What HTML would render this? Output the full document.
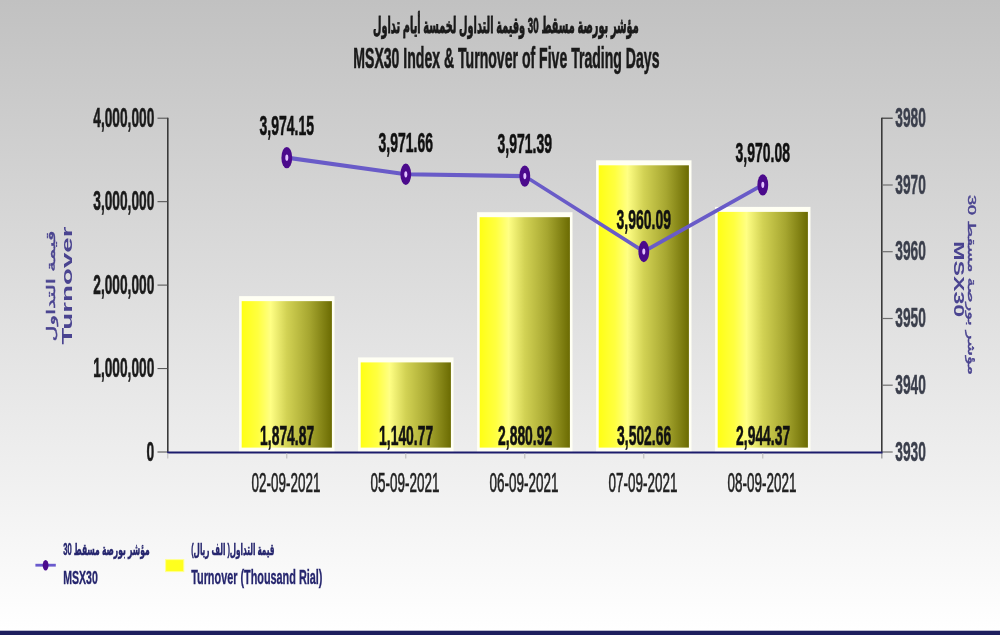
<!DOCTYPE html>
<html lang="ar"><head><meta charset="utf-8"><title>MSX30 Index &amp; Turnover of Five Trading Days</title>
<style>html,body{margin:0;padding:0;background:#fff;overflow:hidden}svg{display:block}</style></head><body>
<svg width="1000" height="635" viewBox="0 0 1000 635">
<defs>
<linearGradient id="bg" gradientUnits="userSpaceOnUse" x1="0" y1="0" x2="0" y2="631">
<stop offset="0" stop-color="#c1c1c1"/>
<stop offset="1" stop-color="#ffffff"/>
</linearGradient>
<linearGradient id="bar" x1="0" y1="0" x2="1" y2="0">
<stop offset="0" stop-color="#ffff14"/>
<stop offset="0.18" stop-color="#ffff40"/>
<stop offset="0.32" stop-color="#ffff84"/>
<stop offset="0.5" stop-color="#d2d254"/>
<stop offset="0.75" stop-color="#a6a630"/>
<stop offset="1" stop-color="#6b6b02"/>
</linearGradient>
</defs>
<rect x="0" y="0" width="1000" height="635" fill="url(#bg)"/>
<rect x="0" y="630.7" width="1000" height="4.3" fill="#1e1f5e"/>
<g transform="translate(373.00,33.30) scale(0.4606,1)"><text x="576.81" y="0" font-family='"Liberation Sans", "DejaVu Sans", sans-serif' font-size="22.07" font-weight="bold" fill="#1a1a1a" textLength="576.81" lengthAdjust="spacingAndGlyphs" stroke="#1a1a1a" stroke-width="0.70" vector-effect="non-scaling-stroke" direction="rtl" unicode-bidi="plaintext">مؤشر بورصة مسقط 30 وقيمة التداول لخمسة أيام تداول</text></g>
<g transform="translate(353.30,67.70) scale(0.4888,1)"><text x="0.00" y="0" font-family='"Liberation Sans", Arial, Helvetica, sans-serif' font-size="28.78" font-weight="bold" fill="#1a1a1a" textLength="626.37" lengthAdjust="spacingAndGlyphs" stroke="#1a1a1a" stroke-width="0.50" vector-effect="non-scaling-stroke">MSX30 Index &amp; Turnover of Five Trading Days</text></g>
<line x1="167.8" y1="117.7" x2="167.8" y2="452.0" stroke="#3a3a3a" stroke-width="1.6"/>
<line x1="881.8" y1="117.7" x2="881.8" y2="452.0" stroke="#3a3a3a" stroke-width="1.6"/>
<line x1="881.8" y1="452.0" x2="881.8" y2="458.5" stroke="#9c9c9c" stroke-width="1.4"/>
<line x1="157.5" y1="118.2" x2="167.8" y2="118.2" stroke="#4a4a4a" stroke-width="1"/>
<g transform="translate(93.30,126.80) scale(0.4909,1)"><text x="0.00" y="0" font-family='"Liberation Sans", Arial, Helvetica, sans-serif' font-size="27.93" font-weight="bold" fill="#1a1a1a" textLength="124.27" lengthAdjust="spacingAndGlyphs" stroke="#1a1a1a" stroke-width="0.50" vector-effect="non-scaling-stroke">4,000,000</text></g>
<line x1="157.5" y1="201.7" x2="167.8" y2="201.7" stroke="#4a4a4a" stroke-width="1"/>
<g transform="translate(93.30,210.25) scale(0.4909,1)"><text x="0.00" y="0" font-family='"Liberation Sans", Arial, Helvetica, sans-serif' font-size="27.93" font-weight="bold" fill="#1a1a1a" textLength="124.27" lengthAdjust="spacingAndGlyphs" stroke="#1a1a1a" stroke-width="0.50" vector-effect="non-scaling-stroke">3,000,000</text></g>
<line x1="157.5" y1="285.1" x2="167.8" y2="285.1" stroke="#4a4a4a" stroke-width="1"/>
<g transform="translate(93.30,293.70) scale(0.4909,1)"><text x="0.00" y="0" font-family='"Liberation Sans", Arial, Helvetica, sans-serif' font-size="27.93" font-weight="bold" fill="#1a1a1a" textLength="124.27" lengthAdjust="spacingAndGlyphs" stroke="#1a1a1a" stroke-width="0.50" vector-effect="non-scaling-stroke">2,000,000</text></g>
<line x1="157.5" y1="368.6" x2="167.8" y2="368.6" stroke="#4a4a4a" stroke-width="1"/>
<g transform="translate(93.30,377.15) scale(0.4909,1)"><text x="0.00" y="0" font-family='"Liberation Sans", Arial, Helvetica, sans-serif' font-size="27.93" font-weight="bold" fill="#1a1a1a" textLength="124.27" lengthAdjust="spacingAndGlyphs" stroke="#1a1a1a" stroke-width="0.50" vector-effect="non-scaling-stroke">1,000,000</text></g>
<line x1="157.5" y1="452.0" x2="167.8" y2="452.0" stroke="#4a4a4a" stroke-width="1"/>
<g transform="translate(146.60,460.60) scale(0.4957,1)"><text x="0.00" y="0" font-family='"Liberation Sans", Arial, Helvetica, sans-serif' font-size="27.93" font-weight="bold" fill="#1a1a1a" textLength="15.54" lengthAdjust="spacingAndGlyphs" stroke="#1a1a1a" stroke-width="0.50" vector-effect="non-scaling-stroke">0</text></g>
<line x1="881.8" y1="118.2" x2="892.7" y2="118.2" stroke="#3c3c3c" stroke-width="1.2"/>
<g transform="translate(895.30,126.80) scale(0.4924,1)"><text x="0.00" y="0" font-family='"Liberation Sans", Arial, Helvetica, sans-serif' font-size="27.93" font-weight="bold" fill="#3b3f4c" textLength="62.14" lengthAdjust="spacingAndGlyphs" stroke="#3b3f4c" stroke-width="0.40" vector-effect="non-scaling-stroke">3980</text></g>
<line x1="881.8" y1="185.0" x2="892.7" y2="185.0" stroke="#6e6e6e" stroke-width="1.2"/>
<g transform="translate(895.30,193.56) scale(0.4924,1)"><text x="0.00" y="0" font-family='"Liberation Sans", Arial, Helvetica, sans-serif' font-size="27.93" font-weight="bold" fill="#3b3f4c" textLength="62.14" lengthAdjust="spacingAndGlyphs" stroke="#3b3f4c" stroke-width="0.40" vector-effect="non-scaling-stroke">3970</text></g>
<line x1="881.8" y1="251.7" x2="892.7" y2="251.7" stroke="#6e6e6e" stroke-width="1.2"/>
<g transform="translate(895.30,260.32) scale(0.4924,1)"><text x="0.00" y="0" font-family='"Liberation Sans", Arial, Helvetica, sans-serif' font-size="27.93" font-weight="bold" fill="#3b3f4c" textLength="62.14" lengthAdjust="spacingAndGlyphs" stroke="#3b3f4c" stroke-width="0.40" vector-effect="non-scaling-stroke">3960</text></g>
<line x1="881.8" y1="318.5" x2="892.7" y2="318.5" stroke="#6e6e6e" stroke-width="1.2"/>
<g transform="translate(895.30,327.08) scale(0.4924,1)"><text x="0.00" y="0" font-family='"Liberation Sans", Arial, Helvetica, sans-serif' font-size="27.93" font-weight="bold" fill="#3b3f4c" textLength="62.14" lengthAdjust="spacingAndGlyphs" stroke="#3b3f4c" stroke-width="0.40" vector-effect="non-scaling-stroke">3950</text></g>
<line x1="881.8" y1="385.2" x2="892.7" y2="385.2" stroke="#6e6e6e" stroke-width="1.2"/>
<g transform="translate(895.30,393.84) scale(0.4924,1)"><text x="0.00" y="0" font-family='"Liberation Sans", Arial, Helvetica, sans-serif' font-size="27.93" font-weight="bold" fill="#3b3f4c" textLength="62.14" lengthAdjust="spacingAndGlyphs" stroke="#3b3f4c" stroke-width="0.40" vector-effect="non-scaling-stroke">3940</text></g>
<line x1="881.8" y1="452.0" x2="892.7" y2="452.0" stroke="#6e6e6e" stroke-width="1.2"/>
<g transform="translate(895.30,460.60) scale(0.4924,1)"><text x="0.00" y="0" font-family='"Liberation Sans", Arial, Helvetica, sans-serif' font-size="27.93" font-weight="bold" fill="#3b3f4c" textLength="62.14" lengthAdjust="spacingAndGlyphs" stroke="#3b3f4c" stroke-width="0.40" vector-effect="non-scaling-stroke">3930</text></g>
<rect x="239.10" y="296.14" width="95.40" height="155.86" fill="#fffff4"/>
<rect x="241.70" y="301.14" width="90.20" height="146.46" fill="url(#bar)"/>
<rect x="358.10" y="357.40" width="95.40" height="94.60" fill="#fffff4"/>
<rect x="360.70" y="362.40" width="90.20" height="85.20" fill="url(#bar)"/>
<rect x="477.10" y="212.19" width="95.40" height="239.81" fill="#fffff4"/>
<rect x="479.70" y="217.19" width="90.20" height="230.41" fill="url(#bar)"/>
<rect x="596.10" y="160.30" width="95.40" height="291.70" fill="#fffff4"/>
<rect x="598.70" y="165.30" width="90.20" height="282.30" fill="url(#bar)"/>
<rect x="715.10" y="206.89" width="95.40" height="245.11" fill="#fffff4"/>
<rect x="717.70" y="211.89" width="90.20" height="235.71" fill="url(#bar)"/>
<line x1="167.1" y1="452.5" x2="882.5" y2="452.5" stroke="#1c1c6c" stroke-width="2"/>
<line x1="167.8" y1="453" x2="167.8" y2="458.5" stroke="#b8b8b8" stroke-width="1"/>
<line x1="286.8" y1="453" x2="286.8" y2="458.5" stroke="#b8b8b8" stroke-width="1"/>
<line x1="405.8" y1="453" x2="405.8" y2="458.5" stroke="#b8b8b8" stroke-width="1"/>
<line x1="524.8" y1="453" x2="524.8" y2="458.5" stroke="#b8b8b8" stroke-width="1"/>
<line x1="643.8" y1="453" x2="643.8" y2="458.5" stroke="#b8b8b8" stroke-width="1"/>
<line x1="762.8" y1="453" x2="762.8" y2="458.5" stroke="#b8b8b8" stroke-width="1"/>
<g transform="translate(260.10,445.20) scale(0.5068,1)"><text x="0.00" y="0" font-family='"Liberation Sans", Arial, Helvetica, sans-serif' font-size="27.37" font-weight="bold" fill="#111" textLength="106.56" lengthAdjust="spacingAndGlyphs" stroke="#111" stroke-width="0.50" vector-effect="non-scaling-stroke">1,874.87</text></g>
<g transform="translate(251.60,491.50) scale(0.4913,1)"><text x="0.00" y="0" font-family='"Liberation Sans", Arial, Helvetica, sans-serif' font-size="27.37" font-weight="normal" fill="#222" textLength="140.03" lengthAdjust="spacingAndGlyphs" stroke="#222" stroke-width="0.50" vector-effect="non-scaling-stroke">02-09-2021</text></g>
<g transform="translate(379.10,445.20) scale(0.5068,1)"><text x="0.00" y="0" font-family='"Liberation Sans", Arial, Helvetica, sans-serif' font-size="27.37" font-weight="bold" fill="#111" textLength="106.56" lengthAdjust="spacingAndGlyphs" stroke="#111" stroke-width="0.50" vector-effect="non-scaling-stroke">1,140.77</text></g>
<g transform="translate(370.60,491.50) scale(0.4913,1)"><text x="0.00" y="0" font-family='"Liberation Sans", Arial, Helvetica, sans-serif' font-size="27.37" font-weight="normal" fill="#222" textLength="140.03" lengthAdjust="spacingAndGlyphs" stroke="#222" stroke-width="0.50" vector-effect="non-scaling-stroke">05-09-2021</text></g>
<g transform="translate(498.10,445.20) scale(0.5068,1)"><text x="0.00" y="0" font-family='"Liberation Sans", Arial, Helvetica, sans-serif' font-size="27.37" font-weight="bold" fill="#111" textLength="106.56" lengthAdjust="spacingAndGlyphs" stroke="#111" stroke-width="0.50" vector-effect="non-scaling-stroke">2,880.92</text></g>
<g transform="translate(489.60,491.50) scale(0.4913,1)"><text x="0.00" y="0" font-family='"Liberation Sans", Arial, Helvetica, sans-serif' font-size="27.37" font-weight="normal" fill="#222" textLength="140.03" lengthAdjust="spacingAndGlyphs" stroke="#222" stroke-width="0.50" vector-effect="non-scaling-stroke">06-09-2021</text></g>
<g transform="translate(617.10,445.20) scale(0.5068,1)"><text x="0.00" y="0" font-family='"Liberation Sans", Arial, Helvetica, sans-serif' font-size="27.37" font-weight="bold" fill="#111" textLength="106.56" lengthAdjust="spacingAndGlyphs" stroke="#111" stroke-width="0.50" vector-effect="non-scaling-stroke">3,502.66</text></g>
<g transform="translate(608.60,491.50) scale(0.4913,1)"><text x="0.00" y="0" font-family='"Liberation Sans", Arial, Helvetica, sans-serif' font-size="27.37" font-weight="normal" fill="#222" textLength="140.03" lengthAdjust="spacingAndGlyphs" stroke="#222" stroke-width="0.50" vector-effect="non-scaling-stroke">07-09-2021</text></g>
<g transform="translate(736.10,445.20) scale(0.5068,1)"><text x="0.00" y="0" font-family='"Liberation Sans", Arial, Helvetica, sans-serif' font-size="27.37" font-weight="bold" fill="#111" textLength="106.56" lengthAdjust="spacingAndGlyphs" stroke="#111" stroke-width="0.50" vector-effect="non-scaling-stroke">2,944.37</text></g>
<g transform="translate(727.60,491.50) scale(0.4913,1)"><text x="0.00" y="0" font-family='"Liberation Sans", Arial, Helvetica, sans-serif' font-size="27.37" font-weight="normal" fill="#222" textLength="140.03" lengthAdjust="spacingAndGlyphs" stroke="#222" stroke-width="0.50" vector-effect="non-scaling-stroke">08-09-2021</text></g>
<g transform="scale(1,2)"><polyline points="286.80,78.83 405.80,87.14 524.80,88.04 643.80,125.76 762.80,92.41" fill="none" stroke="#695bc8" stroke-width="2.05" stroke-linejoin="round"/></g>
<ellipse cx="286.80" cy="157.65" rx="5.4" ry="10.7" fill="#4b0a8c"/>
<ellipse cx="286.80" cy="157.65" rx="1.5" ry="3.1" fill="#e2c2ff"/>
<g transform="translate(259.60,135.05) scale(0.5003,1)"><text x="0.00" y="0" font-family='"Liberation Sans", Arial, Helvetica, sans-serif' font-size="27.93" font-weight="bold" fill="#111" textLength="108.73" lengthAdjust="spacingAndGlyphs" stroke="#111" stroke-width="0.50" vector-effect="non-scaling-stroke">3,974.15</text></g>
<ellipse cx="405.80" cy="174.28" rx="5.4" ry="10.7" fill="#4b0a8c"/>
<ellipse cx="405.80" cy="174.28" rx="1.5" ry="3.1" fill="#e2c2ff"/>
<g transform="translate(378.60,151.68) scale(0.5003,1)"><text x="0.00" y="0" font-family='"Liberation Sans", Arial, Helvetica, sans-serif' font-size="27.93" font-weight="bold" fill="#111" textLength="108.73" lengthAdjust="spacingAndGlyphs" stroke="#111" stroke-width="0.50" vector-effect="non-scaling-stroke">3,971.66</text></g>
<ellipse cx="524.80" cy="176.08" rx="5.4" ry="10.7" fill="#4b0a8c"/>
<ellipse cx="524.80" cy="176.08" rx="1.5" ry="3.1" fill="#e2c2ff"/>
<g transform="translate(497.60,153.48) scale(0.5003,1)"><text x="0.00" y="0" font-family='"Liberation Sans", Arial, Helvetica, sans-serif' font-size="27.93" font-weight="bold" fill="#111" textLength="108.73" lengthAdjust="spacingAndGlyphs" stroke="#111" stroke-width="0.50" vector-effect="non-scaling-stroke">3,971.39</text></g>
<ellipse cx="643.80" cy="251.52" rx="5.4" ry="10.7" fill="#4b0a8c"/>
<ellipse cx="643.80" cy="251.52" rx="1.5" ry="3.1" fill="#e2c2ff"/>
<g transform="translate(616.60,228.92) scale(0.5003,1)"><text x="0.00" y="0" font-family='"Liberation Sans", Arial, Helvetica, sans-serif' font-size="27.93" font-weight="bold" fill="#111" textLength="108.73" lengthAdjust="spacingAndGlyphs" stroke="#111" stroke-width="0.50" vector-effect="non-scaling-stroke">3,960.09</text></g>
<ellipse cx="762.80" cy="184.83" rx="5.4" ry="10.7" fill="#4b0a8c"/>
<ellipse cx="762.80" cy="184.83" rx="1.5" ry="3.1" fill="#e2c2ff"/>
<g transform="translate(735.60,162.23) scale(0.5003,1)"><text x="0.00" y="0" font-family='"Liberation Sans", Arial, Helvetica, sans-serif' font-size="27.93" font-weight="bold" fill="#111" textLength="108.73" lengthAdjust="spacingAndGlyphs" stroke="#111" stroke-width="0.50" vector-effect="non-scaling-stroke">3,970.08</text></g>
<g transform="translate(72.40,285.50) rotate(-90) scale(1.8031,1)"><text x="-32.72" y="0.00" font-family='"Liberation Sans", Arial, Helvetica, sans-serif' font-size="15.36" font-weight="bold" fill="#4a4490" textLength="65.44" lengthAdjust="spacingAndGlyphs">Turnover</text></g>
<g transform="translate(54.80,286.00) rotate(-90) scale(1.9010,1)"><text x="29.20" y="0.00" font-family='"Liberation Sans", "DejaVu Sans", sans-serif' font-size="12.29" font-weight="normal" fill="#4a4490" textLength="58.39" lengthAdjust="spacingAndGlyphs" direction="rtl" stroke="#4a4490" stroke-width="0.4">قيمة التداول</text></g>
<g transform="translate(953.80,279.20) rotate(90) scale(1.6594,1)"><text x="-22.90" y="0.00" font-family='"Liberation Sans", Arial, Helvetica, sans-serif' font-size="13.97" font-weight="bold" fill="#4a4490" textLength="45.80" lengthAdjust="spacingAndGlyphs">MSX30</text></g>
<g transform="translate(968.20,285.00) rotate(90) scale(1.7395,1)"><text x="51.74" y="0.00" font-family='"Liberation Sans", "DejaVu Sans", sans-serif' font-size="10.89" font-weight="normal" fill="#4a4490" textLength="103.48" lengthAdjust="spacingAndGlyphs" direction="rtl" stroke="#4a4490" stroke-width="0.4">مؤشر بورصة مسقط 30</text></g>
<line x1="35.4" y1="565.2" x2="55.8" y2="565.2" stroke="#6a5acd" stroke-width="2.8"/>
<ellipse cx="45.6" cy="565.2" rx="2.9" ry="5.2" fill="#4b0a8c"/>
<g transform="translate(63.20,555.40) scale(0.4875,1)"><text x="177.24" y="0" font-family='"Liberation Sans", "DejaVu Sans", sans-serif' font-size="16.06" font-weight="bold" fill="#26266e" textLength="177.24" lengthAdjust="spacingAndGlyphs" stroke="#26266e" stroke-width="0.40" vector-effect="non-scaling-stroke" direction="rtl">مؤشر بورصة مسقط 30</text></g>
<g transform="translate(63.20,584.40) scale(0.5555,1)"><text x="0.00" y="0" font-family='"Liberation Sans", Arial, Helvetica, sans-serif' font-size="18.99" font-weight="bold" fill="#26266e" textLength="62.29" lengthAdjust="spacingAndGlyphs" stroke="#26266e" stroke-width="0.30" vector-effect="non-scaling-stroke">MSX30</text></g>
<rect x="165.6" y="559.6" width="18.2" height="12" fill="#ffff1e" stroke="#ffff90" stroke-width="1"/>
<g transform="translate(191.20,555.40) scale(0.4666,1)"><text x="178.32" y="0" font-family='"Liberation Sans", "DejaVu Sans", sans-serif' font-size="16.06" font-weight="bold" fill="#26266e" textLength="178.32" lengthAdjust="spacingAndGlyphs" stroke="#26266e" stroke-width="0.40" vector-effect="non-scaling-stroke" direction="rtl">قيمة التداول( الف ريال)</text></g>
<g transform="translate(191.20,584.40) scale(0.5489,1)"><text x="0.00" y="0" font-family='"Liberation Sans", Arial, Helvetica, sans-serif' font-size="19.77" font-weight="bold" fill="#26266e" textLength="239.04" lengthAdjust="spacingAndGlyphs" stroke="#26266e" stroke-width="0.30" vector-effect="non-scaling-stroke">Turnover (Thousand Rial)</text></g>
</svg></body></html>
